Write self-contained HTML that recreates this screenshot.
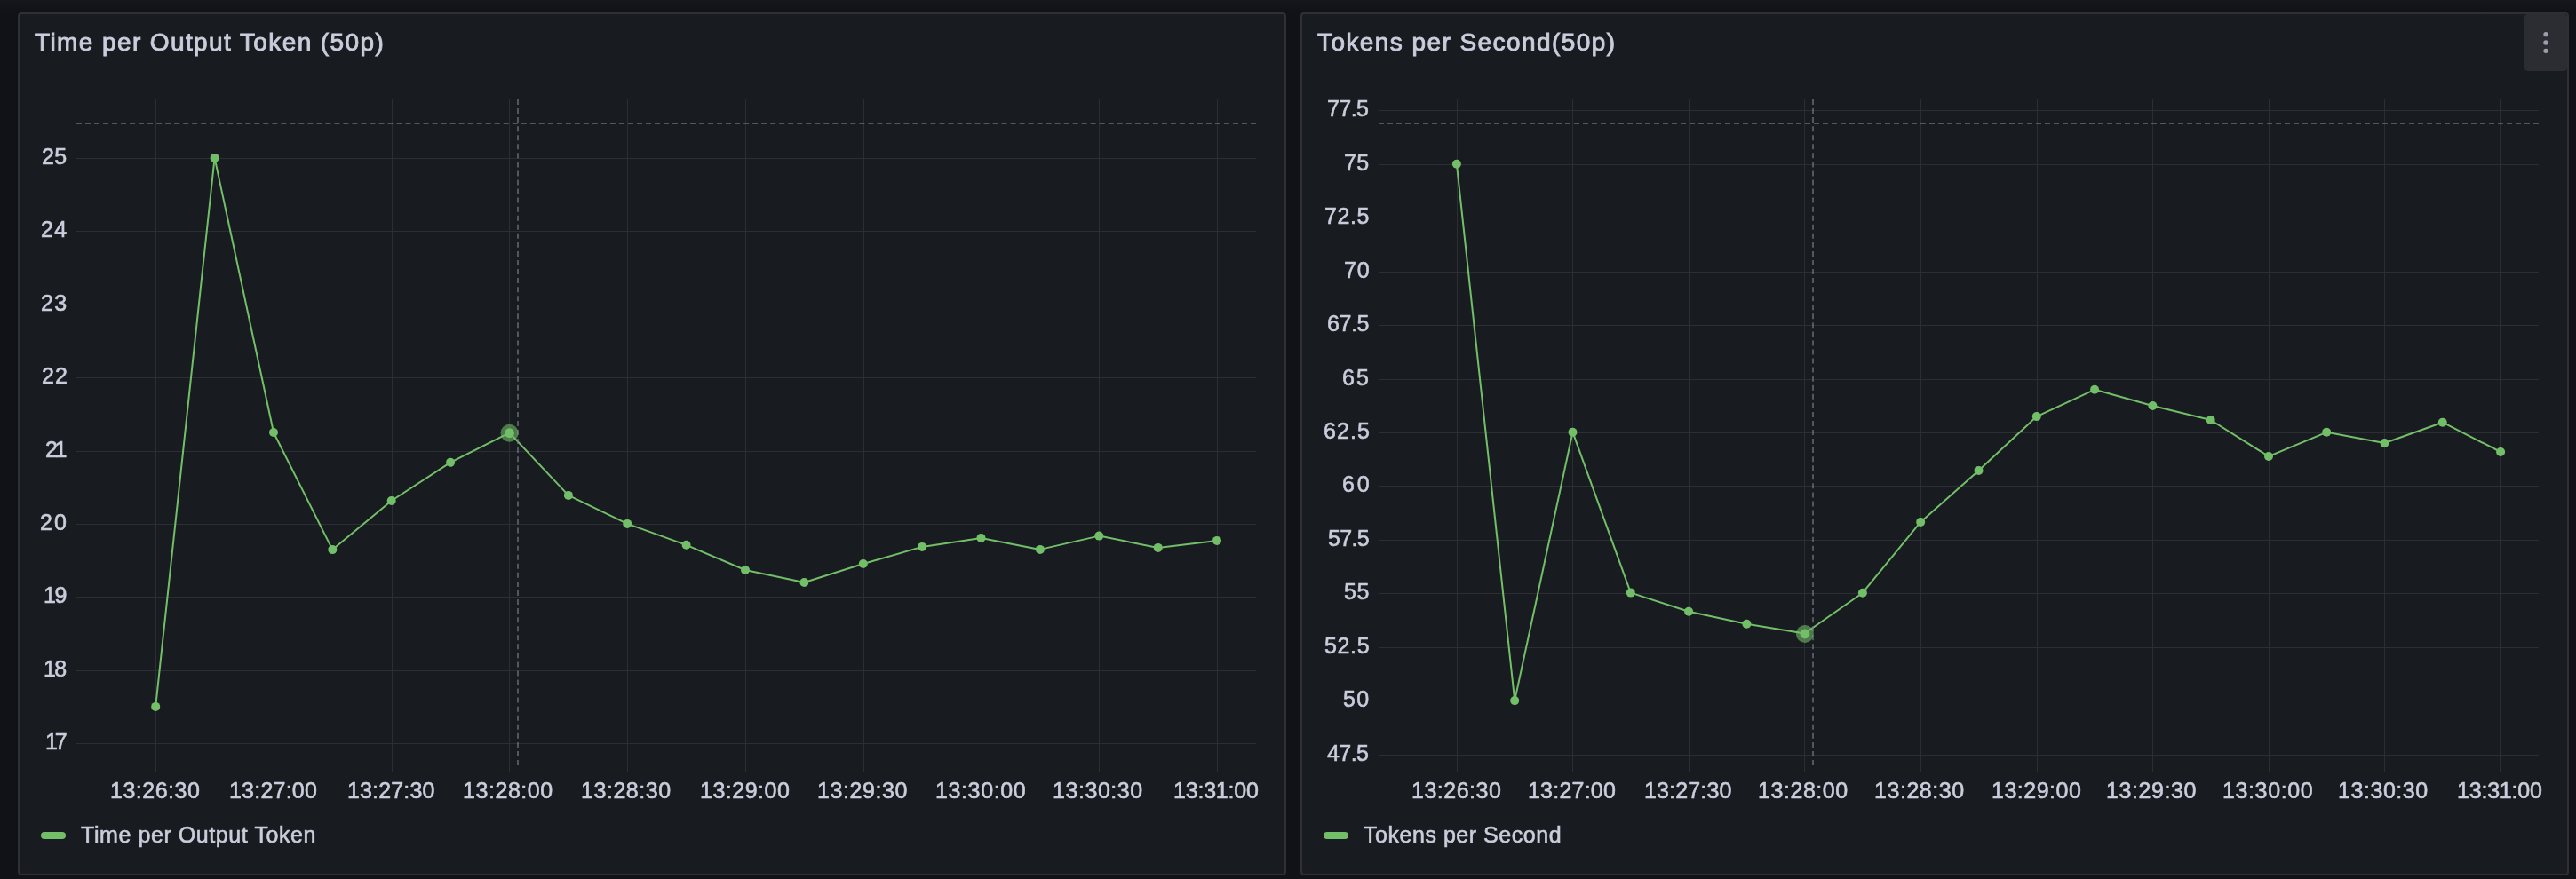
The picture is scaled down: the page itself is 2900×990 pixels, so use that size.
<!DOCTYPE html>
<html><head><meta charset="utf-8"><title>Dashboard</title>
<style>
*{box-sizing:border-box;margin:0;padding:0}
html,body{width:2900px;height:990px;overflow:hidden;background:#111217}
.topg{position:absolute;left:0;top:0;width:2900px;height:13px;background:linear-gradient(#15171c,#111217)}
body{position:relative;font-family:"Liberation Sans",sans-serif;color:#ccccdc}
.panel{position:absolute;background:#181b1f;border:2px solid #2e3036;border-radius:4px}
.t{position:absolute;white-space:nowrap;line-height:1;will-change:transform}
.title{font-size:28px;font-weight:400;-webkit-text-stroke:0.9px #ccccdc}
.ax{font-size:25px;-webkit-text-stroke:0.6px #ccccdc}
.lg{font-size:25px;-webkit-text-stroke:0.6px #ccccdc}
.sw{position:absolute;width:28px;height:8px;border-radius:4px;background:#73bf69}
.ch{position:absolute;height:0;border-top:2px dashed rgba(125,126,142,0.6)}
.cv{position:absolute;width:0;border-left:2px dashed rgba(125,126,142,0.6)}
.menu{position:absolute;width:48px;height:64px;border-radius:4px;background:#2c2d33}
svg{position:absolute;left:0;top:0}
</style></head><body>
<div class="topg"></div>
<div class="panel" style="left:20px;top:14px;width:1428px;height:972px"></div>
<div class="panel" style="left:1464px;top:14px;width:1428px;height:972px"></div>
<div class="menu" style="left:2842px;top:16px"></div>
<svg width="2900" height="990" viewBox="0 0 2900 990">
<rect x="86" y="178" width="1328" height="1" fill="#2b2f33"/>
<rect x="86" y="260" width="1328" height="1" fill="#2b2f33"/>
<rect x="86" y="343" width="1328" height="1" fill="#2b2f33"/>
<rect x="86" y="425" width="1328" height="1" fill="#2b2f33"/>
<rect x="86" y="508" width="1328" height="1" fill="#2b2f33"/>
<rect x="86" y="590" width="1328" height="1" fill="#2b2f33"/>
<rect x="86" y="672" width="1328" height="1" fill="#2b2f33"/>
<rect x="86" y="755" width="1328" height="1" fill="#2b2f33"/>
<rect x="86" y="837" width="1328" height="1" fill="#2b2f33"/>
<rect x="175" y="112" width="1" height="758" fill="#2b2f33"/>
<rect x="308" y="112" width="1" height="758" fill="#2b2f33"/>
<rect x="441" y="112" width="1" height="758" fill="#2b2f33"/>
<rect x="573" y="112" width="1" height="758" fill="#2b2f33"/>
<rect x="706" y="112" width="1" height="758" fill="#2b2f33"/>
<rect x="839" y="112" width="1" height="758" fill="#2b2f33"/>
<rect x="972" y="112" width="1" height="758" fill="#2b2f33"/>
<rect x="1105" y="112" width="1" height="758" fill="#2b2f33"/>
<rect x="1237" y="112" width="1" height="758" fill="#2b2f33"/>
<rect x="1370" y="112" width="1" height="758" fill="#2b2f33"/>
<polyline points="175.2,795.9 241.6,177.9 308.0,487.0 374.3,619.1 440.7,564.0 507.1,520.8 573.5,487.4 639.9,557.9 706.2,589.9 772.6,613.8 839.0,642.0 905.4,656.0 971.8,635.0 1038.1,615.9 1104.5,605.9 1170.9,618.9 1237.3,603.6 1303.7,616.9 1370.0,608.9" fill="none" stroke="#73bf69" stroke-width="2" stroke-linejoin="round"/>
<circle cx="175.2" cy="795.9" r="5" fill="#73bf69"/>
<circle cx="241.6" cy="177.9" r="5" fill="#73bf69"/>
<circle cx="308.0" cy="487.0" r="5" fill="#73bf69"/>
<circle cx="374.3" cy="619.1" r="5" fill="#73bf69"/>
<circle cx="440.7" cy="564.0" r="5" fill="#73bf69"/>
<circle cx="507.1" cy="520.8" r="5" fill="#73bf69"/>
<circle cx="639.9" cy="557.9" r="5" fill="#73bf69"/>
<circle cx="706.2" cy="589.9" r="5" fill="#73bf69"/>
<circle cx="772.6" cy="613.8" r="5" fill="#73bf69"/>
<circle cx="839.0" cy="642.0" r="5" fill="#73bf69"/>
<circle cx="905.4" cy="656.0" r="5" fill="#73bf69"/>
<circle cx="971.8" cy="635.0" r="5" fill="#73bf69"/>
<circle cx="1038.1" cy="615.9" r="5" fill="#73bf69"/>
<circle cx="1104.5" cy="605.9" r="5" fill="#73bf69"/>
<circle cx="1170.9" cy="618.9" r="5" fill="#73bf69"/>
<circle cx="1237.3" cy="603.6" r="5" fill="#73bf69"/>
<circle cx="1303.7" cy="616.9" r="5" fill="#73bf69"/>
<circle cx="1370.0" cy="608.9" r="5" fill="#73bf69"/>
<rect x="1552" y="124" width="1306" height="1" fill="#2b2f33"/>
<rect x="1552" y="185" width="1306" height="1" fill="#2b2f33"/>
<rect x="1552" y="245" width="1306" height="1" fill="#2b2f33"/>
<rect x="1552" y="306" width="1306" height="1" fill="#2b2f33"/>
<rect x="1552" y="366" width="1306" height="1" fill="#2b2f33"/>
<rect x="1552" y="427" width="1306" height="1" fill="#2b2f33"/>
<rect x="1552" y="487" width="1306" height="1" fill="#2b2f33"/>
<rect x="1552" y="547" width="1306" height="1" fill="#2b2f33"/>
<rect x="1552" y="608" width="1306" height="1" fill="#2b2f33"/>
<rect x="1552" y="668" width="1306" height="1" fill="#2b2f33"/>
<rect x="1552" y="729" width="1306" height="1" fill="#2b2f33"/>
<rect x="1552" y="789" width="1306" height="1" fill="#2b2f33"/>
<rect x="1552" y="850" width="1306" height="1" fill="#2b2f33"/>
<rect x="1640" y="112" width="1" height="758" fill="#2b2f33"/>
<rect x="1770" y="112" width="1" height="758" fill="#2b2f33"/>
<rect x="1901" y="112" width="1" height="758" fill="#2b2f33"/>
<rect x="2031" y="112" width="1" height="758" fill="#2b2f33"/>
<rect x="2162" y="112" width="1" height="758" fill="#2b2f33"/>
<rect x="2293" y="112" width="1" height="758" fill="#2b2f33"/>
<rect x="2423" y="112" width="1" height="758" fill="#2b2f33"/>
<rect x="2554" y="112" width="1" height="758" fill="#2b2f33"/>
<rect x="2684" y="112" width="1" height="758" fill="#2b2f33"/>
<rect x="2815" y="112" width="1" height="758" fill="#2b2f33"/>
<polyline points="1639.9,184.8 1705.2,789.1 1770.5,486.7 1835.8,667.6 1901.1,688.7 1966.4,702.7 2031.6,713.4 2096.9,667.7 2162.2,587.9 2227.5,529.9 2292.8,469.1 2358.1,438.8 2423.4,457.0 2488.7,473.0 2554.0,514.0 2619.2,486.8 2684.5,499.0 2749.8,475.7 2815.1,509.0" fill="none" stroke="#73bf69" stroke-width="2" stroke-linejoin="round"/>
<circle cx="1639.9" cy="184.8" r="5" fill="#73bf69"/>
<circle cx="1705.2" cy="789.1" r="5" fill="#73bf69"/>
<circle cx="1770.5" cy="486.7" r="5" fill="#73bf69"/>
<circle cx="1835.8" cy="667.6" r="5" fill="#73bf69"/>
<circle cx="1901.1" cy="688.7" r="5" fill="#73bf69"/>
<circle cx="1966.4" cy="702.7" r="5" fill="#73bf69"/>
<circle cx="2096.9" cy="667.7" r="5" fill="#73bf69"/>
<circle cx="2162.2" cy="587.9" r="5" fill="#73bf69"/>
<circle cx="2227.5" cy="529.9" r="5" fill="#73bf69"/>
<circle cx="2292.8" cy="469.1" r="5" fill="#73bf69"/>
<circle cx="2358.1" cy="438.8" r="5" fill="#73bf69"/>
<circle cx="2423.4" cy="457.0" r="5" fill="#73bf69"/>
<circle cx="2488.7" cy="473.0" r="5" fill="#73bf69"/>
<circle cx="2554.0" cy="514.0" r="5" fill="#73bf69"/>
<circle cx="2619.2" cy="486.8" r="5" fill="#73bf69"/>
<circle cx="2684.5" cy="499.0" r="5" fill="#73bf69"/>
<circle cx="2749.8" cy="475.7" r="5" fill="#73bf69"/>
<circle cx="2815.1" cy="509.0" r="5" fill="#73bf69"/>
<circle cx="2866" cy="38.67" r="2.67" fill="#9d9dab"/>
<circle cx="2866" cy="48.00" r="2.67" fill="#9d9dab"/>
<circle cx="2866" cy="57.33" r="2.67" fill="#9d9dab"/>
</svg>
<div class="ch" style="left:86px;top:138px;width:1328px"></div>
<div class="cv" style="left:582px;top:112px;height:750px"></div>
<div class="ch" style="left:1552px;top:138px;width:1306px"></div>
<div class="cv" style="left:2040px;top:112px;height:750px"></div>
<svg width="2900" height="990" viewBox="0 0 2900 990">
<circle cx="573.5" cy="487.7" r="10" fill="#73bf69" fill-opacity="0.58"/>
<circle cx="573.5" cy="487.7" r="5.4" fill="#73bf69"/>
<circle cx="2031.9" cy="713.9" r="10" fill="#73bf69" fill-opacity="0.58"/>
<circle cx="2031.9" cy="713.9" r="5.4" fill="#73bf69"/>
</svg>
<div class="t title" style="left:39.18px;top:34px;letter-spacing:1.398px">Time per Output Token (50p)</div>
<div class="t ax" style="left:47.09px;top:164px;letter-spacing:0.431px">25</div>
<div class="t ax" style="left:45.79px;top:246px;letter-spacing:1.425px">24</div>
<div class="t ax" style="left:46.19px;top:329px;letter-spacing:1.382px">23</div>
<div class="t ax" style="left:46.59px;top:411px;letter-spacing:1.084px">22</div>
<div class="t ax" style="left:50.99px;top:494px;letter-spacing:-3.339px">21</div>
<div class="t ax" style="left:45.49px;top:576px;letter-spacing:1.980px">20</div>
<div class="t ax" style="left:49.09px;top:658px;letter-spacing:-1.449px">19</div>
<div class="t ax" style="left:49.29px;top:741px;letter-spacing:-1.727px">18</div>
<div class="t ax" style="left:50.89px;top:823px;letter-spacing:-3.218px">17</div>
<div class="t ax" style="left:123.64px;top:878px;letter-spacing:0.504px">13:26:30</div>
<div class="t ax" style="left:257.64px;top:878px;letter-spacing:0.218px">13:27:00</div>
<div class="t ax" style="left:390.89px;top:878px;letter-spacing:0.147px">13:27:30</div>
<div class="t ax" style="left:521.44px;top:878px;letter-spacing:0.561px">13:28:00</div>
<div class="t ax" style="left:654.49px;top:878px;letter-spacing:0.547px">13:28:30</div>
<div class="t ax" style="left:787.64px;top:878px;letter-spacing:0.504px">13:29:00</div>
<div class="t ax" style="left:920.39px;top:878px;letter-spacing:0.575px">13:29:30</div>
<div class="t ax" style="left:1053.24px;top:878px;letter-spacing:0.618px">13:30:00</div>
<div class="t ax" style="left:1185.44px;top:878px;letter-spacing:0.561px">13:30:30</div>
<div class="t ax" style="left:1321.09px;top:878px;letter-spacing:-0.196px">13:31:00</div>
<div class="sw" style="left:46px;top:937px"></div>
<div class="t lg" style="left:91.24px;top:928px;letter-spacing:0.575px">Time per Output Token</div>
<div class="t title" style="left:1483.18px;top:34px;letter-spacing:1.424px">Tokens per Second(50p)</div>
<div class="t ax" style="left:1494.37px;top:110px;letter-spacing:-0.552px">77.5</div>
<div class="t ax" style="left:1513.07px;top:171px;letter-spacing:0.455px">75</div>
<div class="t ax" style="left:1490.87px;top:231px;letter-spacing:0.614px">72.5</div>
<div class="t ax" style="left:1512.57px;top:292px;letter-spacing:0.904px">70</div>
<div class="t ax" style="left:1493.87px;top:352px;letter-spacing:-0.386px">67.5</div>
<div class="t ax" style="left:1511.37px;top:413px;letter-spacing:2.155px">65</div>
<div class="t ax" style="left:1489.57px;top:473px;letter-spacing:1.048px">62.5</div>
<div class="t ax" style="left:1510.57px;top:533px;letter-spacing:2.904px">60</div>
<div class="t ax" style="left:1494.84px;top:594px;letter-spacing:-0.709px">57.5</div>
<div class="t ax" style="left:1512.84px;top:654px;letter-spacing:0.684px">55</div>
<div class="t ax" style="left:1490.84px;top:715px;letter-spacing:0.624px">52.5</div>
<div class="t ax" style="left:1512.04px;top:775px;letter-spacing:1.433px">50</div>
<div class="t ax" style="left:1494.44px;top:836px;letter-spacing:-0.577px">47.5</div>
<div class="t ax" style="left:1588.64px;top:878px;letter-spacing:0.504px">13:26:30</div>
<div class="t ax" style="left:1719.64px;top:878px;letter-spacing:0.218px">13:27:00</div>
<div class="t ax" style="left:1850.89px;top:878px;letter-spacing:0.147px">13:27:30</div>
<div class="t ax" style="left:1979.44px;top:878px;letter-spacing:0.561px">13:28:00</div>
<div class="t ax" style="left:2110.49px;top:878px;letter-spacing:0.547px">13:28:30</div>
<div class="t ax" style="left:2241.64px;top:878px;letter-spacing:0.504px">13:29:00</div>
<div class="t ax" style="left:2371.39px;top:878px;letter-spacing:0.575px">13:29:30</div>
<div class="t ax" style="left:2502.24px;top:878px;letter-spacing:0.618px">13:30:00</div>
<div class="t ax" style="left:2632.44px;top:878px;letter-spacing:0.561px">13:30:30</div>
<div class="t ax" style="left:2766.09px;top:878px;letter-spacing:-0.196px">13:31:00</div>
<div class="sw" style="left:1490px;top:937px"></div>
<div class="t lg" style="left:1535.14px;top:928px;letter-spacing:0.533px">Tokens per Second</div>
</body></html>
